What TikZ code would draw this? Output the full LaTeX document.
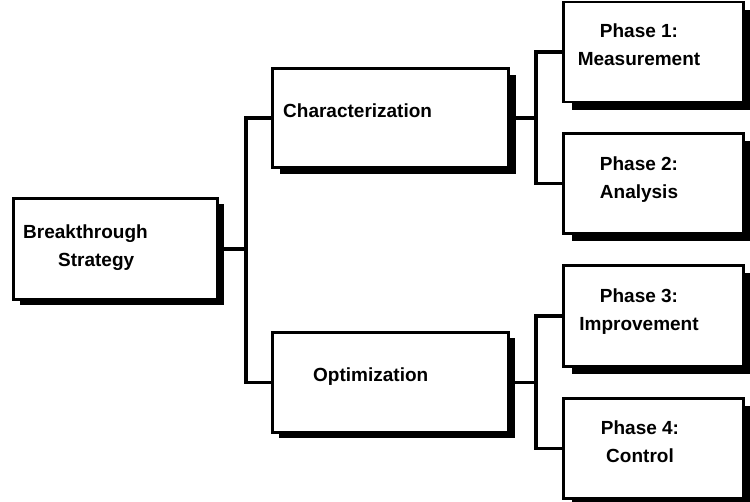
\documentclass[tikz,border=0pt]{standalone}
\usepackage{fontspec}
\setmainfont{Liberation Sans}
\usetikzlibrary{shadows}
\begin{document}
\begin{tikzpicture}[x=1pt,y=-1pt,
  box/.style={draw=black, line width=2.4pt, fill=white, rectangle, inner sep=0pt, outer sep=0pt,
    drop shadow={shadow xshift=#1, shadow yshift=-#1, opacity=1, fill=black}},
  box/.default=7pt,
  lbl/.style={font=\fontsize{19}{28}\selectfont\bfseries, inner sep=0pt, align=center, anchor=base},
  conn/.style={draw=black, line width=3.2pt}]
\useasboundingbox (0,0) rectangle (750,502);
% boxes
\node[box=6pt, minimum width=204pt, minimum height=101pt] (bs) at (115.5,249) {};
\node[box=7pt, minimum width=236pt, minimum height=99pt] (char) at (390.5,118) {};
\node[box=6pt, minimum width=236pt, minimum height=100pt] (opt) at (390.5,382.5) {};
\node[box=8pt, minimum width=180pt, minimum height=100pt] (p1) at (653.5,52) {};
\node[box=8pt, minimum width=180pt, minimum height=100pt] (p2) at (653.5,183.5) {};
\node[box=8pt, minimum width=180pt, minimum height=101pt] (p3) at (653.5,316) {};
\node[box=8pt, minimum width=180pt, minimum height=100pt] (p4) at (653.5,448.5) {};
% labels (base anchor = baseline of the last line)
\node[lbl, align=left, anchor=base west] (tbs) at (23,267) {Breakthrough\\\hspace{35pt}Strategy};
\node[lbl, anchor=base west] (tchar) at (283,118) {Characterization};
\node[lbl, anchor=base west] (topt) at (313,382) {Optimization};
\node[lbl] (tp1) at (639,66) {Phase 1:\\Measurement};
\node[lbl] (tp2) at (639,199) {Phase 2:\\Analysis};
\node[lbl] (tp3) at (639,331) {Phase 3:\\Improvement};
\node[lbl] (tp4) at (640,463) {Phase 4:\\Control};
% junctions
\coordinate (j1) at (246,249);
\coordinate (j2) at (536,118);
\coordinate (j3) at (536,382.5);
% connectors
\draw[conn] (bs.east) -- (j1);
\draw[conn] (char.west) -| (j1) |- (opt.west);
\draw[conn] (char.east) -- (j2);
\draw[conn] (p1.west) -| (j2) |- (p2.west);
\draw[conn] (opt.east) -- (j3);
\draw[conn] (p3.west) -| (j3) |- (p4.west);
\end{tikzpicture}
\end{document}
